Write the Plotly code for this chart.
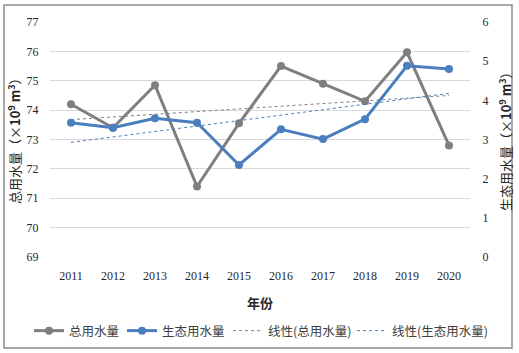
import numpy as np
import plotly.graph_objects as go

years = ["2011", "2012", "2013", "2014", "2015", "2016", "2017", "2018", "2019", "2020"]
total_water = [74.2, 73.4, 74.85, 71.4, 73.55, 75.5, 74.9, 74.3, 75.97, 72.8]
eco_water = [3.43, 3.30, 3.54, 3.43, 2.35, 3.26, 3.01, 3.52, 4.88, 4.80]
left_ticks = [69, 70, 71, 72, 73, 74, 75, 76, 77]
right_ticks = [0, 1, 2, 3, 4, 5, 6]

# least-squares linear trend lines (as in the spreadsheet's "线性" trendline)
idx = np.arange(len(years))
k1, b1 = np.polyfit(idx, total_water, 1)
k2, b2 = np.polyfit(idx, eco_water, 1)
trend_total = (k1 * idx + b1).tolist()
trend_eco = (k2 * idx + b2).tolist()

GRAY = "#7f7f7f"
BLUE = "#4a7ebf"
W, H = 519, 353
L, R, T, B = 50, 49, 22, 96
PW, PH = W - L - R, H - T - B

def px_x(p):
    return (p - L) / PW

def px_y(p):
    return (H - B - p) / PH

serif = "Liberation Serif, Times New Roman, serif"
cjk = "Noto Sans CJK SC, sans-serif"

fig = go.Figure()
fig.add_trace(go.Scatter(x=years, y=total_water, name="总用水量", mode="lines+markers",
                         legend="legend",
                         line=dict(color=GRAY, width=3), marker=dict(color=GRAY, size=8)))
fig.add_trace(go.Scatter(x=years, y=eco_water, name="生态用水量", mode="lines+markers", yaxis="y2",
                         legend="legend2",
                         line=dict(color=BLUE, width=3), marker=dict(color=BLUE, size=8)))
fig.add_trace(go.Scatter(x=years, y=trend_total, name="线性(总用水量)", mode="lines",
                         legend="legend3",
                         line=dict(color=GRAY, width=1, dash="dot")))
fig.add_trace(go.Scatter(x=years, y=trend_eco, name="线性(生态用水量)", mode="lines", yaxis="y2",
                         legend="legend4",
                         line=dict(color=BLUE, width=1, dash="dot")))

def leg(x_line_start):
    return dict(orientation="h", x=px_x(x_line_start - 5), xanchor="left",
                y=px_y(331), yanchor="middle",
                font=dict(family=cjk, size=12.5, color="#404040"),
                bgcolor="rgba(0,0,0,0)", borderwidth=0)

fig.update_layout(
    width=W, height=H,
    margin=dict(l=L, r=R, t=T, b=B, autoexpand=False),
    paper_bgcolor="white", plot_bgcolor="white",
    showlegend=True,
    legend=leg(34), legend2=leg(127), legend3=leg(233), legend4=leg(357),
    xaxis=dict(type="category", range=[-0.5, 9.5], showgrid=False, zeroline=False,
               showline=False, ticks="outside", ticklen=8, tickcolor="rgba(0,0,0,0)",
               tickfont=dict(family=serif, size=12, color="#262626")),
    yaxis=dict(range=[69, 77], tickvals=left_ticks, showgrid=True, gridcolor="#d9d9d9",
               gridwidth=1, zeroline=False, showline=False, ticks="outside", ticklen=8,
               tickcolor="rgba(0,0,0,0)",
               tickfont=dict(family=serif, size=12, color="#262626")),
    yaxis2=dict(range=[0, 6], tickvals=right_ticks, overlaying="y", side="right",
                showgrid=False, zeroline=False, showline=False, ticks="outside", ticklen=9,
                tickcolor="rgba(0,0,0,0)",
                tickfont=dict(family=serif, size=12, color="#262626")),
    annotations=[
        dict(text="总用水量（×<b>10<sup>9</sup> m<sup>3</sup></b>）", textangle=-90,
             xref="paper", yref="paper", x=px_x(14), y=px_y(138), xanchor="center", yanchor="middle",
             showarrow=False, font=dict(family=cjk, size=13, color="#262626")),
        dict(text="生态用水量（×<b>10<sup>9</sup> m<sup>3</sup></b>）", textangle=-90,
             xref="paper", yref="paper", x=px_x(505), y=px_y(138), xanchor="center", yanchor="middle",
             showarrow=False, font=dict(family=cjk, size=13, color="#262626")),
        dict(text="<b>年份</b>", xref="paper", yref="paper", x=px_x(260), y=px_y(302),
             xanchor="center", yanchor="middle", showarrow=False,
             font=dict(family=cjk, size=13, color="#262626")),
    ],
    shapes=[
        dict(type="rect", xref="paper", yref="paper",
             x0=px_x(4), x1=px_x(512), y0=px_y(348), y1=px_y(5),
             line=dict(color="#8c8c8c", width=1.5), fillcolor="rgba(0,0,0,0)", layer="below"),
    ],
)

fig.write_html("out.html", config={"displayModeBar": False},
               post_script="document.body.style.margin='0px';document.body.style.padding='0px';")
